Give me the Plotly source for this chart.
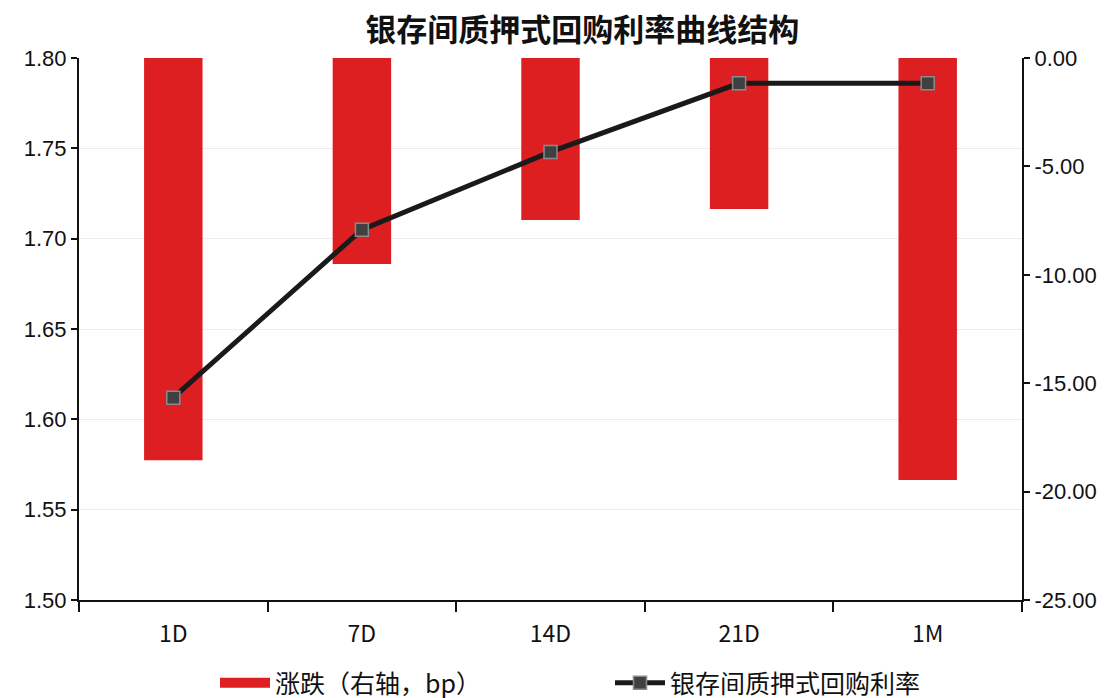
import plotly.graph_objects as go

categories = ["1D", "7D", "14D", "21D", "1M"]
change_bp = [-18.55, -9.50, -7.47, -6.97, -19.46]
repo_rate = [1.612, 1.705, 1.748, 1.786, 1.786]
left_ticks = [1.50, 1.55, 1.60, 1.65, 1.70, 1.75, 1.80]
right_ticks = [-25, -20, -15, -10, -5, 0]

BAR_NAME = "涨跌（右轴，bp）"
LINE_NAME = "银存间质押式回购利率"
RED = "#DD1F22"

fig = go.Figure()
# bars on the right axis (main y), line on the left axis overlaid so it draws on top
fig.add_trace(go.Bar(
    x=categories, y=change_bp, name=BAR_NAME, yaxis="y", showlegend=False,
    marker=dict(color=RED, line=dict(width=0)), width=0.31,
))
# legend swatch for the bars (wide rectangle like the reference)
fig.add_trace(go.Scatter(
    x=[None], y=[None], name=BAR_NAME, mode="lines", yaxis="y",
    line=dict(color=RED, width=18),
))
fig.add_trace(go.Scatter(
    x=categories, y=repo_rate, name=LINE_NAME, yaxis="y2",
    mode="lines+markers",
    line=dict(color="#1a1a1a", width=5),
    marker=dict(symbol="square", size=13, color="#404040",
                line=dict(color="#8a8a8a", width=1.5)),
))

cjk = "Noto Sans CJK SC"
num = "Liberation Sans"
fig.update_layout(
    width=1109, height=698,
    margin=dict(l=79, r=87, t=58, b=98, autoexpand=False),
    paper_bgcolor="white", plot_bgcolor="white",
    title=dict(text="<b>银存间质押式回购利率曲线结构</b>", x=0.525, xanchor="center",
               y=0.957, yanchor="middle", font=dict(family=cjk, size=31, color="#111")),
    font=dict(family=cjk, size=20, color="#111"),
    xaxis=dict(showline=True, linecolor="#111", linewidth=2, ticks="outside",
               tickson="boundaries", ticklen=10, tickwidth=1.5, tickcolor="#111",
               ticklabelstandoff=12,
               tickfont=dict(family=cjk, size=23), showgrid=False),
    yaxis=dict(range=[-25, 0], tickvals=right_ticks,
               ticktext=[f"{v:.2f}" for v in right_ticks],
               side="right",
               showline=True, linecolor="#111", linewidth=2, ticks="outside",
               ticklen=6, tickwidth=1.5, tickcolor="#111",
               tickfont=dict(family=num, size=22),
               showgrid=False, zeroline=False),
    yaxis2=dict(range=[1.50, 1.80], tickvals=left_ticks,
                ticktext=[f"{v:.2f}" for v in left_ticks],
                overlaying="y", side="left",
                showline=True, linecolor="#111", linewidth=2, ticks="outside",
                ticklen=6, tickwidth=1.5, tickcolor="#111",
                tickfont=dict(family=num, size=22),
                showgrid=True, gridcolor="#ececec", gridwidth=1, zeroline=False),
    legend=dict(orientation="h", x=215 / 1109, xanchor="left", xref="container",
                y=(698 - 683) / 698, yanchor="middle", yref="container",
                font=dict(family=cjk, size=25), itemwidth=50, entrywidth=330,
                traceorder="normal", bgcolor="rgba(0,0,0,0)"),
    bargap=0.69,
)

fig.write_html("out.html")
